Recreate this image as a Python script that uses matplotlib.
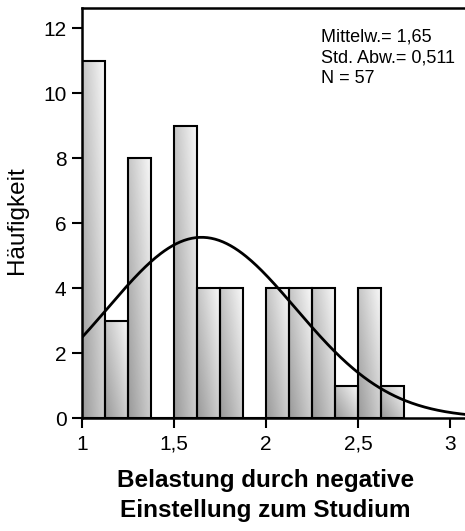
import numpy as np
import matplotlib
matplotlib.use('Agg')
import matplotlib.pyplot as plt

# histogram data
bin_left = [1.0, 1.125, 1.25, 1.375, 1.5, 1.625, 1.75, 1.875, 2.0, 2.125, 2.25, 2.375, 2.5, 2.625]
counts = [11, 3, 8, 0, 9, 4, 4, 0, 4, 4, 4, 1, 4, 1]
bin_width = 0.125
mean_val = 1.65
std_val = 0.511
n_val = 57
x_ticks = [1, 1.5, 2, 2.5, 3]
x_ticklabels = ['1', '1,5', '2', '2,5', '3']
y_ticks = [0, 2, 4, 6, 8, 10, 12]

plt.rcParams['font.family'] = ['Liberation Sans', 'DejaVu Sans']

fig = plt.figure(figsize=(4.65, 5.31), dpi=100)
ax = fig.add_axes([0.176, 0.2128, 0.824, 0.772])

# gradient fill for each bar: darker bottom-left, lighter top-right
gx, gy = np.meshgrid(np.linspace(0, 1, 40), np.linspace(0, 1, 80))
grad = 0.60 + 0.38 * (0.55 * gx + 0.45 * gy)
for left, c in zip(bin_left, counts):
    if c == 0:
        continue
    ax.imshow(grad, extent=[left, left + bin_width, 0, c], origin='lower',
              aspect='auto', cmap='gray', vmin=0, vmax=1, zorder=1,
              interpolation='bilinear')
ax.bar(bin_left, counts, width=bin_width, align='edge', facecolor='none',
       edgecolor='black', linewidth=1.5, zorder=2)

# normal curve scaled to the histogram
xs = np.linspace(1.0, 3.1, 300)
ys = n_val * bin_width / (std_val * np.sqrt(2 * np.pi)) * np.exp(-0.5 * ((xs - mean_val) / std_val) ** 2)
ax.plot(xs, ys, color='black', linewidth=2, zorder=3)

ax.set_xlim(1.0, 3.08)
ax.set_ylim(0, 12.62)
ax.set_xticks(x_ticks)
ax.set_xticklabels(x_ticklabels)
ax.set_yticks(y_ticks)
ax.tick_params(direction='out', length=7, width=1.5, labelsize=15)
ax.tick_params(axis='x', pad=5)
ax.tick_params(axis='y', pad=4)
for side in ['left', 'top', 'bottom']:
    ax.spines[side].set_linewidth(1.8)
ax.spines['right'].set_visible(False)

ax.set_ylabel('Häufigkeit', fontsize=17.5, va='center')
ax.yaxis.set_label_coords(-0.17, 0.483)
ax.set_xlabel('Belastung durch negative\nEinstellung zum Studium', fontsize=17.5,
              fontweight='bold', va='top', linespacing=1.4)
ax.xaxis.set_label_coords(0.479, -0.125)

stats = f'Mittelw.= 1,65\nStd. Abw.= 0,511\nN = {n_val}'
ax.text(0.624, 0.951, stats, transform=ax.transAxes, fontsize=13, va='top',
        ha='left', linespacing=1.3)

fig.savefig('out.png', dpi=100)
